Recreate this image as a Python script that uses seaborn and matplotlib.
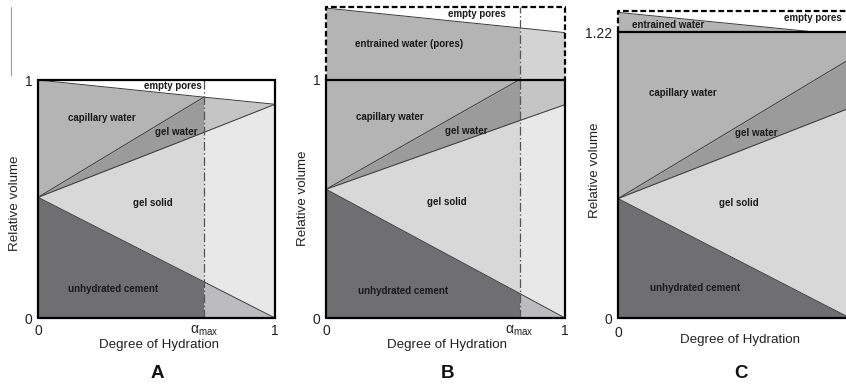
import numpy as np
import pandas as pd
import matplotlib
matplotlib.use("Agg")
import matplotlib.pyplot as plt
import seaborn as sns
from matplotlib import font_manager
from matplotlib.lines import Line2D

# ---------------- data (relative volumes vs degree of hydration) ----------------
hyd_A = [0.0, 0.70, 1.0]
cement_A = [0.507, 0.152, 0.0]
gelsolid_A = [0.507, 0.780, 0.898]
gelwater_A = [0.507, 0.928]
captop_A = [1.0, 0.928, 0.898]
total_A = 1.0

hyd_B = [0.0, 0.81, 1.0]
cement_B = [0.54, 0.103, 0.0]
gelsolid_B = [0.54, 0.828, 0.895]
gelwater_B = [0.54, 1.0]
captop_B = [1.0, 1.0, 1.0]
entrained_B = [1.300, 1.217, 1.197]
total_B = 1.303

hyd_C = [0.0, 0.86, 1.0]
cement_C = [0.51, 0.071, 0.0]
gelsolid_C = [0.51, 0.843, 0.897]
gelwater_C = [0.51, 1.023, 1.106]
captop_C = [1.22, 1.22, 1.22]
entrained_C = [1.305, 1.22, 1.22]
total_C = 1.311

xticks_A = [0.0, 0.70, 1.0]
xticklabels_A = ["0", r"$\alpha_{\mathrm{max}}$", "1"]
xticks_B = [0.0, 0.81, 1.0]
xticklabels_B = ["0", r"$\alpha_{\mathrm{max}}$", "1"]
yticks_AB = [0.0, 1.0]
yticklabels_AB = ["0", "1"]
yticks_C = [0.0, 1.22]
yticklabels_C = ["0", "1.22"]
panel_letters = ["A", "B", "C"]

# ---------------- style ----------------
sns.set_theme(style="white")
fams = {f.name for f in font_manager.fontManager.ttflist}
NARROW = "Liberation Sans Narrow" in fams
base = "Liberation Sans"
narrow = "Liberation Sans Narrow" if NARROW else base
plt.rcParams["font.family"] = [base, "DejaVu Sans"]
plt.rcParams["mathtext.fontset"] = "custom"
plt.rcParams["mathtext.rm"] = narrow
plt.rcParams["mathtext.it"] = base

c_cem = "#6f6f71"
c_gs = "#d8d8d8"
c_gw = "#9b9b9b"
c_cap = "#b4b4b4"
c_cem_r = "#bcbcbe"
c_gs_r = "#e8e8e8"
c_cap_r = "#c5c5c5"
c_ent_r = "#d3d3d3"
lc = "#3a3a3a"
lw_b = 0.7
lw_f = 1.6
dash_f = (2.6, 1.3)

W, H = 846, 385
fig = plt.figure(figsize=(W / 100, H / 100), dpi=100)


def frac(px, py):
    return px / W, (H - py) / H


axA = fig.add_axes([38 / W, 67 / H, 237 / W, 238 / H])
axB = fig.add_axes([326 / W, 67 / H, 239 / W, 1.303 * 238.4 / H])
axC = fig.add_axes([618 / W, 67 / H, 232 / W, 1.311 * 234.2 / H])


def line(ax, x, y, **kw):
    df = pd.DataFrame({"x": x, "y": y})
    sns.lineplot(data=df, x="x", y="y", ax=ax, sort=False, estimator=None,
                 legend=False, **kw)


def setup(ax, ymax, xt, xtl, yt, ytl):
    ax.set_xlim(0, 1)
    ax.set_ylim(0, ymax)
    for s in ax.spines.values():
        s.set_visible(False)
    ax.set_xticks(xt)
    ax.set_xticklabels(xtl)
    ax.set_yticks(yt)
    ax.set_yticklabels(ytl)
    ax.tick_params(axis="both", length=0, labelsize=10, colors="#222222")
    ax.tick_params(axis="x", pad=4)
    ax.tick_params(axis="y", pad=4)
    for t in ax.get_xticklabels() + ax.get_yticklabels():
        t.set_fontfamily([narrow, "DejaVu Sans"])
    ax.set_xlabel("")
    ax.set_ylabel("")
    ax.set_facecolor("white")


lab_kw = dict(fontsize=7, fontweight="bold", color="#1a1a1a", ha="center", va="center")

# ---------------- Panel A ----------------
ax = axA
L, R = slice(0, 2), slice(1, 3)
hl, hr = hyd_A[L], hyd_A[R]
ax.fill_between(hl, 0, cement_A[L], color=c_cem, lw=0)
ax.fill_between(hl, cement_A[L], gelsolid_A[L], color=c_gs, lw=0)
ax.fill_between(hl, gelsolid_A[L], gelwater_A, color=c_gw, lw=0)
ax.fill_between(hl, gelwater_A, captop_A[L], color=c_cap, lw=0)
ax.fill_between(hr, 0, cement_A[R], color=c_cem_r, lw=0)
ax.fill_between(hr, cement_A[R], gelsolid_A[R], color=c_gs_r, lw=0)
ax.fill_between(hr, gelsolid_A[R], captop_A[R], color=c_cap_r, lw=0)
for yy in (cement_A, gelsolid_A, captop_A):
    line(ax, hyd_A, yy, color=lc, lw=lw_b)
line(ax, hl, gelwater_A, color=lc, lw=lw_b)
ax.plot([hyd_A[1], hyd_A[1]], [0, total_A], color="#555555", lw=0.9,
        dashes=(7, 2, 1.2, 2))
ax.plot([0, 1, 1, 0, 0], [0, 0, total_A, total_A, 0], color="black", lw=lw_f,
        clip_on=False, solid_joinstyle="miter")
setup(ax, total_A, xticks_A, xticklabels_A, yticks_AB, yticklabels_AB)
ax.text(0.568, 0.975, "empty pores", **lab_kw)
ax.text(0.269, 0.839, "capillary water", **lab_kw)
ax.text(0.585, 0.780, "gel water", **lab_kw)
ax.text(0.486, 0.484, "gel solid", **lab_kw)
ax.text(0.318, 0.121, "unhydrated cement", **lab_kw)

# ---------------- Panel B ----------------
ax = axB
hl, hr = hyd_B[L], hyd_B[R]
ax.fill_between(hl, 0, cement_B[L], color=c_cem, lw=0)
ax.fill_between(hl, cement_B[L], gelsolid_B[L], color=c_gs, lw=0)
ax.fill_between(hl, gelsolid_B[L], gelwater_B, color=c_gw, lw=0)
ax.fill_between(hl, gelwater_B, captop_B[L], color=c_cap, lw=0)
ax.fill_between(hl, captop_B[L], entrained_B[L], color=c_cap, lw=0)
ax.fill_between(hr, 0, cement_B[R], color=c_cem_r, lw=0)
ax.fill_between(hr, cement_B[R], gelsolid_B[R], color=c_gs_r, lw=0)
ax.fill_between(hr, gelsolid_B[R], captop_B[R], color=c_cap_r, lw=0)
ax.fill_between(hr, captop_B[R], entrained_B[R], color=c_ent_r, lw=0)
for yy in (cement_B, gelsolid_B, entrained_B):
    line(ax, hyd_B, yy, color=lc, lw=lw_b)
line(ax, hl, gelwater_B, color=lc, lw=lw_b)
ax.plot([hyd_B[1], hyd_B[1]], [0, total_B], color="#555555", lw=0.9,
        dashes=(7, 2, 1.2, 2), clip_on=False)
ax.plot([0, 1, 1, 0, 0], [0, 0, 1, 1, 0], color="black", lw=lw_f,
        clip_on=False, solid_joinstyle="miter")
ax.plot([0, 0, 1, 1], [1, total_B, total_B, 1], color="black", lw=lw_f,
        dashes=dash_f, clip_on=False)
setup(ax, total_B, xticks_B, xticklabels_B, yticks_AB, yticklabels_AB)
ax.text(0.633, 1.274, "empty pores", **lab_kw)
ax.text(0.349, 1.148, "entrained water (pores)", **lab_kw)
ax.text(0.268, 0.843, "capillary water", **lab_kw)
ax.text(0.585, 0.783, "gel water", **lab_kw)
ax.text(0.505, 0.487, "gel solid", **lab_kw)
ax.text(0.321, 0.113, "unhydrated cement", **lab_kw)

# ---------------- Panel C ----------------
ax = axC
ax.fill_between(hyd_C, 0, cement_C, color=c_cem, lw=0)
ax.fill_between(hyd_C, cement_C, gelsolid_C, color=c_gs, lw=0)
ax.fill_between(hyd_C, gelsolid_C, gelwater_C, color=c_gw, lw=0)
ax.fill_between(hyd_C, gelwater_C, captop_C, color=c_cap, lw=0)
ax.fill_between(hyd_C, captop_C, entrained_C, color=c_cap, lw=0)
for yy in (cement_C, gelsolid_C, gelwater_C, entrained_C):
    line(ax, hyd_C, yy, color=lc, lw=lw_b)
ax.plot([1, 0, 0, 1, 1], [0, 0, 1.22, 1.22, 0], color="black", lw=lw_f,
        clip_on=False, solid_joinstyle="miter")
ax.plot([0, 0, 1], [1.22, total_C, total_C], color="black", lw=lw_f,
        dashes=dash_f, clip_on=False)
setup(ax, total_C, [0.0], ["0"], yticks_C, yticklabels_C)
ax.tick_params(axis="x", pad=6)
ax.text(0.214, 1.250, "entrained water", **lab_kw)
ax.text(0.842, 1.283, "empty pores", **lab_kw)
ax.text(0.281, 0.961, "capillary water", **lab_kw)
ax.text(0.598, 0.792, "gel water", **lab_kw)
ax.text(0.519, 0.493, "gel solid", **lab_kw)
ax.text(0.332, 0.130, "unhydrated cement", **lab_kw)

# ---------------- axis titles and panel letters ----------------
axis_fs = 11 if NARROW else 9.6
for (px, py) in [(15, 203), (303, 198), (595, 170)]:
    fig.text(*frac(px, py), "Relative volume", rotation=90, ha="center",
             va="center", fontsize=axis_fs, family=[narrow, "DejaVu Sans"],
             color="#222222")
for (px, py) in [(159, 345), (447, 345), (740, 340)]:
    fig.text(*frac(px, py), "Degree of Hydration", ha="center", va="center",
             fontsize=axis_fs, family=[narrow, "DejaVu Sans"], color="#222222")
for letter, px in zip(panel_letters, [157, 447, 741]):
    fig.text(*frac(px, 373), letter, ha="center", va="center", fontsize=13.5,
             fontweight="bold", family=[narrow, "DejaVu Sans"], color="#111111")

fig.add_artist(Line2D([11 / W, 11 / W], [1 - 7 / H, 1 - 75 / H],
                      transform=fig.transFigure, color="#9a9a9a", lw=0.8))

fig.savefig("out.png", dpi=100)
